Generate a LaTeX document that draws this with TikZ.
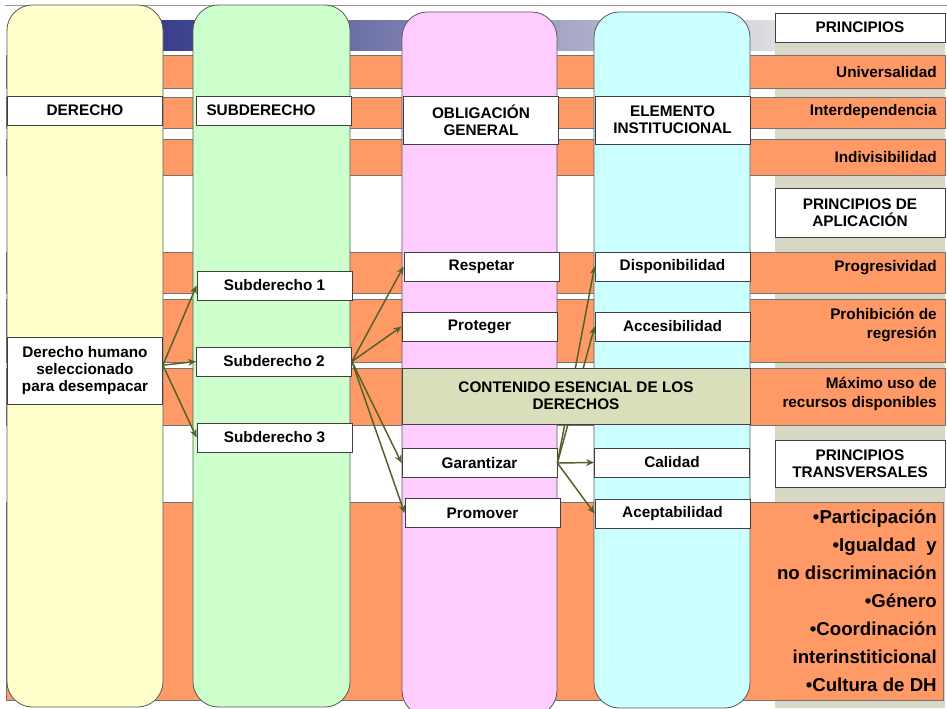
\documentclass[tikz,border=0pt]{standalone}
\usepackage{fontspec}
\setmainfont{Liberation Sans}
\usetikzlibrary{arrows.meta}
\definecolor{amarillo}{HTML}{FFFFCC}
\definecolor{verdeclaro}{HTML}{CCFFCC}
\definecolor{rosa}{HTML}{FFCCFF}
\definecolor{celeste}{HTML}{CCFFFF}
\definecolor{naranja}{HTML}{FF9966}
\definecolor{oliva}{HTML}{D8DFBA}
\definecolor{grisfondo}{HTML}{D9D7C6}
\definecolor{marino}{HTML}{363A8A}
\definecolor{grisclaro}{HTML}{DEDEE2}
\definecolor{flechaverde}{HTML}{4F6228}
\begin{document}
\begin{tikzpicture}[x=0.75pt,y=-0.75pt,
    caja/.style={draw=black!75,fill=white,line width=0.6pt,minimum width=155*0.75pt,
      minimum height=29*0.75pt,inner sep=1pt,align=center,
      font=\bfseries\fontsize{11.5}{13}\selectfont},
    banda/.style={draw=black!55,fill=naranja,line width=0.5pt},
    columna/.style={draw=black!65,line width=0.6pt,rounded corners=19pt},
    flecha/.style={flechaverde,line width=1.1pt,-{Stealth[length=6pt,width=5pt]}},
    principio/.style={anchor=east,align=right,inner sep=0pt,
      font=\bfseries\fontsize{11.5}{14}\selectfont}]
    % Fondo y marco
    \useasboundingbox[fill=white] (0,0) rectangle (947,708);
    \draw[black!40] (5,5) -- (947,5);
    % Franja de encabezado
    \shade[left color=marino,right color=grisclaro] (150,20) rectangle (775,50);
    % Columna de principios
    \fill[grisfondo] (775,42) rectangle (945,708);
    % Franjas naranjas
    \draw[banda] (6,55) rectangle (945,88);
    \draw[banda] (6,97) rectangle (945,128);
    \draw[banda] (6,139) rectangle (945,175);
    \draw[banda] (6,252) rectangle (945,293);
    \draw[banda] (6,299) rectangle (945,362);
    \draw[banda] (6,368) rectangle (945,425);
    \draw[banda] (6,502) rectangle (943,700);
    % Columnas
    \draw[columna,fill=amarillo] (7,5) rectangle (163,707);
    \draw[columna,fill=verdeclaro] (193,5) rectangle (350,707);
    \draw[columna,fill=rosa] (402,12) rectangle (557,716);
    \draw[columna,fill=celeste] (594,12) rectangle (750,708);

    % Encabezados de columnas
    \node[caja] (derecho) at (85,110.5) {DERECHO};
    \node[caja,text width=135*0.75pt,align=left] (subderecho) at (274,110.5) {SUBDERECHO};
    \node[caja,minimum height=48*0.75pt] (obligacion) at (481,120) {OBLIGACIÓN\\GENERAL};
    \node[caja,minimum height=48*0.75pt] (elemento) at (672.5,120) {ELEMENTO\\INSTITUCIONAL};

    % Principios
    \node[caja,minimum width=170*0.75pt] (principios) at (860,27.5) {PRINCIPIOS};
    \node[caja,minimum width=170*0.75pt,minimum height=49*0.75pt] (aplicacion) at (860,212.5)
      {PRINCIPIOS DE\\APLICACIÓN};
    \node[caja,minimum width=170*0.75pt,minimum height=47*0.75pt] (transversales) at (860,463.5)
      {PRINCIPIOS\\TRANSVERSALES};
    \node[principio] (universalidad) at (937,72) {Universalidad};
    \node[principio] (interdependencia) at (937,112) {Interdependencia};
    \node[principio] (indivisibilidad) at (937,157) {Indivisibilidad};
    \node[principio] (progresividad) at (937,268) {Progresividad};
    \node[principio] (prohibicion) at (937,325) {Prohibición de\\regresión};
    \node[principio] (maximo) at (937,394) {Máximo uso de\\recursos disponibles};
    \node[principio,font=\bfseries\fontsize{14}{21}\selectfont] (lista) at (937,601)
      {\textbullet Participación\\\textbullet Igualdad~ y\\no discriminación\\\textbullet Género\\
       \textbullet Coordinación\\interinstiticional\\\textbullet Cultura de DH};

    % Derecho y subderechos
    \node[caja,minimum height=67*0.75pt] (dh) at (85,370.5)
      {Derecho humano\\seleccionado\\para desempacar};
    \node[caja] (sub1) at (274.5,285.5) {Subderecho 1};
    \node[caja] (sub2) at (274,361.5) {Subderecho 2};
    \node[caja] (sub3) at (274.5,437.5) {Subderecho 3};

    % Obligaciones
    \node[caja] (respetar) at (481.5,266.5) {Respetar};
    \node[caja] (proteger) at (479.5,326.5) {Proteger};
    \node[caja] (garantizar) at (479.5,463) {Garantizar};
    \node[caja] (promover) at (482.5,513) {Promover};

    % Elementos institucionales
    \node[caja] (disponibilidad) at (672.5,266.5) {Disponibilidad};
    \node[caja] (accesibilidad) at (672.5,326.5) {Accesibilidad};
    \node[caja] (calidad) at (672,462.5) {Calidad};
    \node[caja] (aceptabilidad) at (672.5,513.5) {Aceptabilidad};

    % Flechas
    \foreach \destino in {sub1,sub2,sub3}
      \draw[flecha] ([yshift=4pt]dh.east) -- (\destino.west);
    \foreach \destino in {respetar,proteger,garantizar,promover}
      \draw[flecha] (sub2.east) -- (\destino.west);
    \foreach \destino in {disponibilidad,accesibilidad,calidad,aceptabilidad}
      \draw[flecha] (garantizar.east) -- (\destino.west);

    % Contenido esencial (tapa las flechas)
    \node[caja,fill=oliva,minimum width=348*0.75pt,minimum height=56*0.75pt] (contenido)
      at (576,396) {CONTENIDO ESENCIAL DE LOS\\DERECHOS};
\end{tikzpicture}
\end{document}
